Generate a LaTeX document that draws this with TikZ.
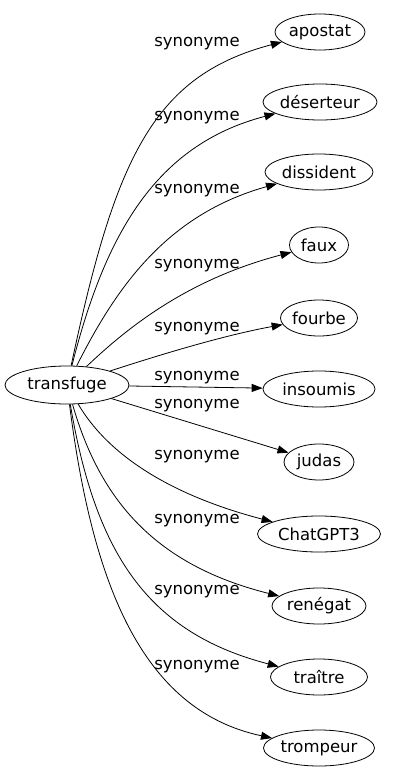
\documentclass[tikz,border=0pt]{standalone}
\usepackage{fontspec}
\setmainfont{DejaVu Sans}
\usetikzlibrary{shapes.geometric,arrows.meta}
\begin{document}
\begin{tikzpicture}[x=1pt,y=-1pt,
  every node/.style={font=\fontsize{16.5}{19}\selectfont},
  term/.style={ellipse,draw,line width=0.8pt,inner sep=0pt,minimum height=36pt},
  lbl/.style={inner sep=0pt},
  syn/.style={line width=0.8pt,-{Triangle[length=11pt,width=8pt]}}]
\path[use as bounding box] (0,0) rectangle (400,779);
\node[term,minimum width=124pt,minimum height=38pt] (t) at (67,385) {transfuge};
\node[term,minimum width=90pt] (a1) at (320,32) {apostat};
\node[term,minimum width=114pt] (a2) at (320,102) {déserteur};
\node[term,minimum width=108pt] (a3) at (319,172) {dissident};
\node[term,minimum width=59pt] (a4) at (319,245) {faux};
\node[term,minimum width=77pt] (a5) at (319,318) {fourbe};
\node[term,minimum width=112pt] (a6) at (319,389) {insoumis};
\node[term,minimum width=70pt] (a7) at (319,462) {judas};
\node[term,minimum width=123pt] (a8) at (319,534) {ChatGPT3};
\node[term,minimum width=94pt] (a9) at (319,606) {renégat};
\node[term,minimum width=97pt] (a10) at (319,677) {traître};
\node[term,minimum width=111pt] (a11) at (319,748) {trompeur};
\draw[syn] (t) .. controls (115,160) and (152,76) .. (a1);
\draw[syn] (t) .. controls (105,235) and (155,145) .. (a2);
\draw[syn] (t) .. controls (115,290) and (165,215) .. (a3);
\draw[syn] (t) .. controls (125,330) and (185,280) .. (a4);
\draw[syn] (t) .. controls (150,358) and (220,336) .. (a5);
\draw[syn] (t) -- (a6);
\draw[syn] (t) -- (a7);
\draw[syn] (t) .. controls (108,455) and (170,495) .. (a8);
\draw[syn] (t) .. controls (100,500) and (155,565) .. (a9);
\draw[syn] (t) .. controls (95,550) and (145,632) .. (a10);
\draw[syn] (t) .. controls (92,580) and (140,710) .. (a11);
\node[lbl] (l1) at (197,44) {synonyme};
\node[lbl] (l2) at (197,118) {synonyme};
\node[lbl] (l3) at (197,191) {synonyme};
\node[lbl] (l4) at (197,266) {synonyme};
\node[lbl] (l5) at (197,329) {synonyme};
\node[lbl] (l6) at (197,378) {synonyme};
\node[lbl] (l7) at (197,406) {synonyme};
\node[lbl] (l8) at (197,457) {synonyme};
\node[lbl] (l9) at (197,521) {synonyme};
\node[lbl] (l10) at (197,592) {synonyme};
\node[lbl] (l11) at (197,667) {synonyme};
\end{tikzpicture}
\end{document}
